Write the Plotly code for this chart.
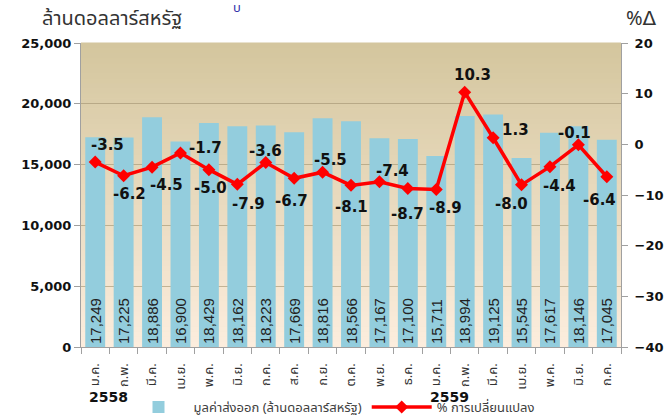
import plotly.graph_objects as go

months = ["ม.ค.", "ก.พ.", "มี.ค.", "เม.ย.", "พ.ค.", "มิ.ย.", "ก.ค.", "ส.ค.", "ก.ย.", "ต.ค.", "พ.ย.", "ธ.ค.",
          "ม.ค.", "ก.พ.", "มี.ค.", "เม.ย.", "พ.ค.", "มิ.ย.", "ก.ค."]
years = ["2558", "2559"]
year_start_idx = [0, 12]
export_value = [17249, 17225, 18886, 16900, 18429, 18162, 18223, 17669, 18816, 18566, 17167, 17100,
                15711, 18994, 19125, 15545, 17617, 18146, 17045]
pct_change = [-3.5, -6.2, -4.5, -1.7, -5.0, -7.9, -3.6, -6.7, -5.5, -8.1, -7.4, -8.7,
              -8.9, 10.3, 1.3, -8.0, -4.4, -0.1, -6.4]

bar_name = "มูลค่าส่งออก (ล้านดอลลาร์สหรัฐ)"
line_name = "% การเปลี่ยนแปลง"
left_title = "ล้านดอลลาร์สหรัฐ"
right_title = "%Δ"

# label offsets (px) for the % change labels: (dx, dy downward)
label_offsets = [(12, -17), (6, 18), (14, 18), (25, -5), (2, 18), (11, 20), (0, -12), (-3, 23),
                 (8, -12), (0, 22), (13, -11), (0, 26), (9, 19), (8, -17), (22, -8), (-10, 19),
                 (10, 19), (-4, -12), (-7, 23)]

x = list(range(len(months)))
FONT = "Tahoma, 'Noto Sans Thai', 'DejaVu Sans', sans-serif"
BOLD = "'DejaVu Sans', sans-serif"

W, H = 664, 418
PL, PT, PR, PB = 81, 43, 621, 347  # plot area in page pixels
PH = PB - PT
PW = PR - PL

fig = go.Figure()
fig.add_trace(go.Bar(
    x=x, y=export_value, name=bar_name, width=0.7,
    marker=dict(color="#93CDDD", line=dict(width=0)),
    texttemplate="%{y:,}", textposition="inside", insidetextanchor="start",
    textangle=-90, textfont=dict(size=15, color="#222222", family="'Liberation Sans', sans-serif"),
    constraintext="none", hoverinfo="skip",
))
fig.add_trace(go.Scatter(
    x=x, y=pct_change, name=line_name, yaxis="y2", mode="lines+markers",
    line=dict(color="#FF0000", width=3.5),
    marker=dict(symbol="diamond", size=10, color="#FF0000"),
    hoverinfo="skip",
))

# gradient background bands
N = 60
top = (212, 198, 158)
bot = (252, 237, 221)
shapes = []
for i in range(N):
    t = i / (N - 1)
    c = tuple(round(bot[k] + (top[k] - bot[k]) * t) for k in range(3))
    shapes.append(dict(type="rect", xref="x domain", yref="y domain",
                       x0=0, x1=1, y0=i / N, y1=(i + 1) / N + 0.002,
                       fillcolor="rgb(%d,%d,%d)" % c, line=dict(width=0), layer="below"))

annotations = []
for i, v in enumerate(pct_change):
    dx, dy = label_offsets[i]
    annotations.append(dict(x=i, y=v, xref="x", yref="y2", text="%.1f" % v, showarrow=False,
                            xshift=dx, yshift=-dy,
                            font=dict(size=15, color="#111111", family=BOLD, weight="bold")))
for yr, idx in zip(years, year_start_idx):
    annotations.append(dict(x=idx, y=-(397 - PB) / PH, xref="x", yref="paper", text=yr,
                            showarrow=False, xshift=13, yanchor="middle",
                            font=dict(size=14, color="#111111", family=BOLD, weight="bold")))
annotations.append(dict(x=(40 - PL) / PW, y=1 + (PT - 19) / PH, xref="paper", yref="paper",
                        text=left_title, showarrow=False, xanchor="left", yanchor="middle",
                        font=dict(size=20, color="#333333", family=FONT)))
annotations.append(dict(x=1.0, y=1 + (PT - 19) / PH, xref="paper", yref="paper", text=right_title,
                        showarrow=False, xanchor="left", yanchor="middle", xshift=3,
                        font=dict(size=20, color="#333333", family=FONT)))
annotations.append(dict(x=(231 - PL) / PW, y=1 + (PT - 8) / PH, xref="paper", yref="paper",
                        text="บ", showarrow=False, yanchor="middle",
                        font=dict(size=13, color="#3333AA", family=FONT)))

fig.update_layout(
    width=W, height=H,
    margin=dict(l=PL, r=W - PR, t=PT, b=H - PB, autoexpand=False),
    paper_bgcolor="white", plot_bgcolor="rgb(240,228,200)",
    font=dict(family=FONT, color="#222222"),
    shapes=shapes, annotations=annotations,
    showlegend=True,
    legend=dict(orientation="h", x=(332 - PL) / PW, xanchor="center",
                yref="container", y=1 - 407 / H, yanchor="middle",
                font=dict(size=13, color="#404040", family=FONT), bgcolor="rgba(0,0,0,0)",
                itemwidth=60),
    bargap=0.3,
    xaxis=dict(range=[-0.5, len(months) - 0.5], tickmode="array", tickvals=x, ticktext=months,
               tickangle=-90, ticks="", showgrid=False, zeroline=False, automargin=False,
               showline=True, linecolor="#A0A0A0", linewidth=1, ticklabelstandoff=10,
               tickfont=dict(size=13, color="#333333", family=FONT),
               minor=dict(tickmode="linear", tick0=-0.5, dtick=1, ticks="outside", ticklen=6,
                          tickcolor="#A0A0A0", showgrid=False)),
    yaxis=dict(range=[0, 25000], dtick=5000, tickformat=",", showgrid=True, automargin=False,
               gridcolor="rgba(160,145,110,0.6)", gridwidth=1, zeroline=False,
               showline=True, linecolor="#A0A0A0", ticks="outside", ticklen=6, tickcolor="#A0A0A0",
               tickfont=dict(size=13, color="#111111", family=BOLD, weight="bold")),
    yaxis2=dict(range=[-40, 20], dtick=10, overlaying="y", side="right", showgrid=False,
                automargin=False,
                zeroline=False, showline=True, linecolor="#A0A0A0", ticks="outside", ticklen=6,
                tickcolor="#A0A0A0", ticklabelstandoff=4,
                tickfont=dict(size=13, color="#111111", family=BOLD, weight="bold")),
)

fig.write_html("out.html", config={"displayModeBar": False},
               post_script="document.body.style.margin='0';document.body.style.overflow='hidden';")
